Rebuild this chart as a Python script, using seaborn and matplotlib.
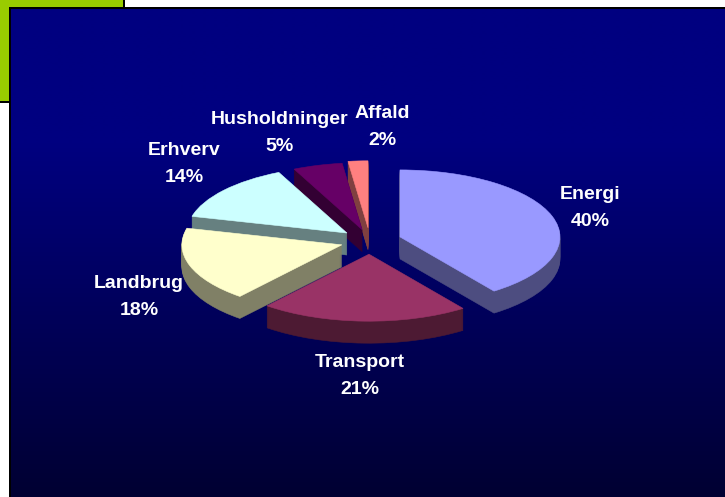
import numpy as np
import seaborn as sns
import matplotlib
matplotlib.use('Agg')
import matplotlib.pyplot as plt
from matplotlib.patches import Rectangle

categories = ['Energi', 'Transport', 'Landbrug', 'Erhverv', 'Husholdninger', 'Affald']
shares = [40, 21, 18, 14, 5, 2]
slice_colors = ['#9999FF', '#993366', '#FFFFCC', '#CCFFFF', '#660066', '#FF8080']
explode = [0.197, 0.197, 0.185, 0.187, 0.175, 0.197]
# back to front, so nearer slices cover the walls of the ones behind
draw_order = [1, 5, 4, 0, 3, 2]
label_pos = [(590, 208), (360, 376), (139, 297), (184, 164), (280, 133), (382, 127)]

W, H = 725, 497
rx, ry = 160.0, 67.0
cx, cy = 370.0, 241.0
thickness = 22

sns.set_theme(style='white')
plt.rcParams['font.family'] = ['Liberation Sans', 'DejaVu Sans']

fig = plt.figure(figsize=(W / 100, H / 100), dpi=100, facecolor='white')

# slide background, in pixel coordinates
bg = fig.add_axes([0, 0, 1, 1], zorder=0)
bg.axis('off')
bg.add_patch(Rectangle((0, 0), 123, 101, color='#99CC00', lw=0))
bg.add_patch(Rectangle((123, 0), 2, 8, color='black', lw=0))
bg.add_patch(Rectangle((0, 101), 10, 2, color='black', lw=0))
bg.add_patch(Rectangle((9, 7), W - 9, H - 7, color='black', lw=0))
ramp = np.zeros((256, 1, 3))
ramp[:, 0, 2] = np.concatenate([np.full(70, 128), np.linspace(128, 50, 186)]) / 255
bg.imshow(ramp, extent=(11, W, H, 9), aspect='auto', interpolation='bilinear', zorder=2)
bg.set_xlim(0, W)
bg.set_ylim(H, 0)

# exploded pie, squashed by the axes limits and stacked to give it depth
ax = fig.add_axes([0, 0, 1, 1], zorder=1)
palette = sns.color_palette(slice_colors)
dark = [tuple(np.array(c) * 0.5) for c in palette]

for depth in range(thickness, -1, -1):
    colors = palette if depth == 0 else dark
    wedges, _ = ax.pie(shares, explode=explode, colors=colors, startangle=90,
                       counterclock=False, center=(0, -depth / ry),
                       wedgeprops={'linewidth': 0.4})
    for rank, i in enumerate(draw_order):
        wedges[i].set_edgecolor(colors[i])
        wedges[i].set_zorder(rank * 100 + (thickness - depth) + 1)

ax.set_aspect('auto')
ax.set_xlim(-cx / rx, (W - cx) / rx)
ax.set_ylim((cy - H) / ry, cy / ry)
ax.axis('off')

for name, share, pos in zip(categories, shares, label_pos):
    ax.text(pos[0], pos[1], '%s\n%d%%' % (name, share), transform=bg.transData,
            color='white', fontsize=14, fontweight='bold', ha='center',
            va='center', linespacing=1.7, zorder=1000)

fig.savefig('out.png', dpi=100)
